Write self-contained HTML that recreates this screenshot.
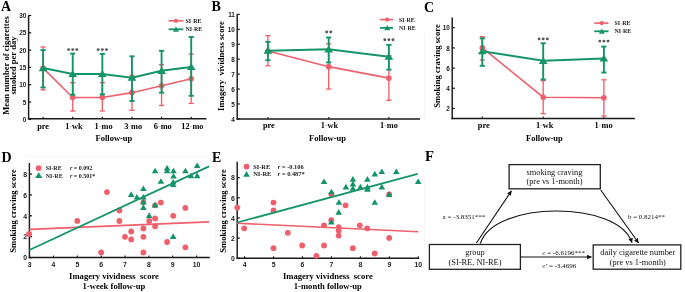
<!DOCTYPE html>
<html><head><meta charset="utf-8"><title>Figure</title>
<style>
html,body{margin:0;padding:0;background:#fff;}
body{width:685px;height:292px;overflow:hidden;}
svg{display:block;will-change:transform;}
</style></head>
<body>
<svg width="685" height="292" viewBox="0 0 685 292">
<rect width="685" height="292" fill="#fff"/>
<line x1="28.6" y1="15.3" x2="28.6" y2="119.45" stroke="#1a1a1a" stroke-width="1.45" />
<line x1="28.6" y1="119.3" x2="31.2" y2="119.3" stroke="#1a1a1a" stroke-width="1.25" />
<text x="26.3" y="121.9" font-family="'Liberation Sans', sans-serif" font-size="6.4" font-weight="bold" text-anchor="end" fill="#222" >0</text>
<line x1="28.6" y1="102" x2="31.2" y2="102" stroke="#1a1a1a" stroke-width="1.25" />
<text x="26.3" y="104.6" font-family="'Liberation Sans', sans-serif" font-size="6.4" font-weight="bold" text-anchor="end" fill="#222" >5</text>
<line x1="28.6" y1="84.7" x2="31.2" y2="84.7" stroke="#1a1a1a" stroke-width="1.25" />
<text x="26.3" y="87.3" font-family="'Liberation Sans', sans-serif" font-size="6.4" font-weight="bold" text-anchor="end" fill="#222" >10</text>
<line x1="28.6" y1="67.4" x2="31.2" y2="67.4" stroke="#1a1a1a" stroke-width="1.25" />
<text x="26.3" y="70" font-family="'Liberation Sans', sans-serif" font-size="6.4" font-weight="bold" text-anchor="end" fill="#222" >15</text>
<line x1="28.6" y1="50.1" x2="31.2" y2="50.1" stroke="#1a1a1a" stroke-width="1.25" />
<text x="26.3" y="52.7" font-family="'Liberation Sans', sans-serif" font-size="6.4" font-weight="bold" text-anchor="end" fill="#222" >20</text>
<line x1="28.6" y1="32.8" x2="31.2" y2="32.8" stroke="#1a1a1a" stroke-width="1.25" />
<text x="26.3" y="35.4" font-family="'Liberation Sans', sans-serif" font-size="6.4" font-weight="bold" text-anchor="end" fill="#222" >25</text>
<line x1="28.6" y1="15.5" x2="31.2" y2="15.5" stroke="#1a1a1a" stroke-width="1.25" />
<text x="26.3" y="18.1" font-family="'Liberation Sans', sans-serif" font-size="6.4" font-weight="bold" text-anchor="end" fill="#222" >30</text>
<line x1="27.9" y1="118.75" x2="206.5" y2="118.75" stroke="#1a1a1a" stroke-width="1.5" />
<line x1="43.1" y1="118.75" x2="43.1" y2="116.7" stroke="#1a1a1a" stroke-width="1.2" />
<line x1="72.72" y1="118.75" x2="72.72" y2="116.7" stroke="#1a1a1a" stroke-width="1.2" />
<line x1="102.34" y1="118.75" x2="102.34" y2="116.7" stroke="#1a1a1a" stroke-width="1.2" />
<line x1="131.96" y1="118.75" x2="131.96" y2="116.7" stroke="#1a1a1a" stroke-width="1.2" />
<line x1="161.58" y1="118.75" x2="161.58" y2="116.7" stroke="#1a1a1a" stroke-width="1.2" />
<line x1="191.2" y1="118.75" x2="191.2" y2="116.7" stroke="#1a1a1a" stroke-width="1.2" />
<text x="43.1" y="128.6" font-family="'Liberation Serif', serif" font-size="8.3" font-weight="bold" text-anchor="middle" fill="#000" >pre</text>
<text x="73.92" y="128.6" font-family="'Liberation Serif', serif" font-size="8.3" font-weight="bold" text-anchor="middle" fill="#000" >1<tspan fill='#a0a0a0' font-weight='normal'>-</tspan>wk</text>
<text x="103.54" y="128.6" font-family="'Liberation Serif', serif" font-size="8.3" font-weight="bold" text-anchor="middle" fill="#000" >1<tspan fill='#a0a0a0' font-weight='normal'>-</tspan>mo</text>
<text x="133.16" y="128.6" font-family="'Liberation Serif', serif" font-size="8.3" font-weight="bold" text-anchor="middle" fill="#000" >3<tspan fill='#a0a0a0' font-weight='normal'>-</tspan>mo</text>
<text x="162.78" y="128.6" font-family="'Liberation Serif', serif" font-size="8.3" font-weight="bold" text-anchor="middle" fill="#000" >6<tspan fill='#a0a0a0' font-weight='normal'>-</tspan>mo</text>
<text x="192.4" y="128.6" font-family="'Liberation Serif', serif" font-size="8.3" font-weight="bold" text-anchor="middle" fill="#000" >12<tspan fill='#a0a0a0' font-weight='normal'>-</tspan>mo</text>
<text x="113.9" y="141.4" font-family="'Liberation Serif', serif" font-size="8.5" font-weight="bold" text-anchor="middle" fill="#000" >Follow-up</text>
<text transform="translate(8.9,65.5) rotate(-90)" font-family="'Liberation Serif', serif" font-size="8.6" font-weight="bold" text-anchor="middle" fill="#000" >Mean number of cigarettes</text>
<text transform="translate(15.9,65.5) rotate(-90)" font-family="'Liberation Serif', serif" font-size="8.6" font-weight="bold" text-anchor="middle" fill="#000" >smoked per day</text>
<line x1="43.1" y1="89.89" x2="43.1" y2="46.99" stroke="#ef5f6c" stroke-width="1.35" />
<line x1="40.5" y1="89.89" x2="45.7" y2="89.89" stroke="#ef5f6c" stroke-width="1.35" />
<line x1="40.5" y1="46.99" x2="45.7" y2="46.99" stroke="#ef5f6c" stroke-width="1.35" />
<line x1="72.72" y1="111" x2="72.72" y2="82.62" stroke="#ef5f6c" stroke-width="1.35" />
<line x1="70.12" y1="111" x2="75.32" y2="111" stroke="#ef5f6c" stroke-width="1.35" />
<line x1="70.12" y1="82.62" x2="75.32" y2="82.62" stroke="#ef5f6c" stroke-width="1.35" />
<line x1="102.34" y1="111" x2="102.34" y2="82.62" stroke="#ef5f6c" stroke-width="1.35" />
<line x1="99.74" y1="111" x2="104.94" y2="111" stroke="#ef5f6c" stroke-width="1.35" />
<line x1="99.74" y1="82.62" x2="104.94" y2="82.62" stroke="#ef5f6c" stroke-width="1.35" />
<line x1="131.96" y1="110.3" x2="131.96" y2="75.36" stroke="#ef5f6c" stroke-width="1.35" />
<line x1="129.36" y1="110.3" x2="134.56" y2="110.3" stroke="#ef5f6c" stroke-width="1.35" />
<line x1="129.36" y1="75.36" x2="134.56" y2="75.36" stroke="#ef5f6c" stroke-width="1.35" />
<line x1="161.58" y1="105.46" x2="161.58" y2="64.63" stroke="#ef5f6c" stroke-width="1.35" />
<line x1="158.98" y1="105.46" x2="164.18" y2="105.46" stroke="#ef5f6c" stroke-width="1.35" />
<line x1="158.98" y1="64.63" x2="164.18" y2="64.63" stroke="#ef5f6c" stroke-width="1.35" />
<line x1="191.2" y1="103.38" x2="191.2" y2="54.25" stroke="#ef5f6c" stroke-width="1.35" />
<line x1="188.6" y1="103.38" x2="193.8" y2="103.38" stroke="#ef5f6c" stroke-width="1.35" />
<line x1="188.6" y1="54.25" x2="193.8" y2="54.25" stroke="#ef5f6c" stroke-width="1.35" />
<polyline points="43.1,68.09 72.72,97.5 102.34,97.5 131.96,92.66 161.58,85.74 191.2,78.82" fill="none" stroke="#ef5f6c" stroke-width="1.6"/>
<circle cx="43.1" cy="68.09" r="2.8" fill="#ef5f6c"/>
<circle cx="72.72" cy="97.5" r="2.8" fill="#ef5f6c"/>
<circle cx="102.34" cy="97.5" r="2.8" fill="#ef5f6c"/>
<circle cx="131.96" cy="92.66" r="2.8" fill="#ef5f6c"/>
<circle cx="161.58" cy="85.74" r="2.8" fill="#ef5f6c"/>
<circle cx="191.2" cy="78.82" r="2.8" fill="#ef5f6c"/>
<line x1="43.1" y1="87.47" x2="43.1" y2="50.1" stroke="#139566" stroke-width="1.9" />
<line x1="40.5" y1="87.47" x2="45.7" y2="87.47" stroke="#139566" stroke-width="1.9" />
<line x1="40.5" y1="50.1" x2="45.7" y2="50.1" stroke="#139566" stroke-width="1.9" />
<line x1="72.72" y1="94.73" x2="72.72" y2="53.56" stroke="#139566" stroke-width="1.9" />
<line x1="70.12" y1="94.73" x2="75.32" y2="94.73" stroke="#139566" stroke-width="1.9" />
<line x1="70.12" y1="53.56" x2="75.32" y2="53.56" stroke="#139566" stroke-width="1.9" />
<line x1="102.34" y1="94.39" x2="102.34" y2="53.91" stroke="#139566" stroke-width="1.9" />
<line x1="99.74" y1="94.39" x2="104.94" y2="94.39" stroke="#139566" stroke-width="1.9" />
<line x1="99.74" y1="53.91" x2="104.94" y2="53.91" stroke="#139566" stroke-width="1.9" />
<line x1="131.96" y1="100.96" x2="131.96" y2="56.33" stroke="#139566" stroke-width="1.9" />
<line x1="129.36" y1="100.96" x2="134.56" y2="100.96" stroke="#139566" stroke-width="1.9" />
<line x1="129.36" y1="56.33" x2="134.56" y2="56.33" stroke="#139566" stroke-width="1.9" />
<line x1="161.58" y1="92.66" x2="161.58" y2="50.79" stroke="#139566" stroke-width="1.9" />
<line x1="158.98" y1="92.66" x2="164.18" y2="92.66" stroke="#139566" stroke-width="1.9" />
<line x1="158.98" y1="50.79" x2="164.18" y2="50.79" stroke="#139566" stroke-width="1.9" />
<line x1="191.2" y1="95.77" x2="191.2" y2="36.95" stroke="#139566" stroke-width="1.9" />
<line x1="188.6" y1="95.77" x2="193.8" y2="95.77" stroke="#139566" stroke-width="1.9" />
<line x1="188.6" y1="36.95" x2="193.8" y2="36.95" stroke="#139566" stroke-width="1.9" />
<polyline points="43.1,68.09 72.72,73.97 102.34,73.97 131.96,77.78 161.58,70.86 191.2,67.05" fill="none" stroke="#139566" stroke-width="2"/>
<polygon points="38.7,71.15 47.5,71.15 43.1,64.35" fill="#139566"/>
<polygon points="68.32,77.03 77.12,77.03 72.72,70.23" fill="#139566"/>
<polygon points="97.94,77.03 106.74,77.03 102.34,70.23" fill="#139566"/>
<polygon points="127.56,80.84 136.36,80.84 131.96,74.04" fill="#139566"/>
<polygon points="157.18,73.92 165.98,73.92 161.58,67.12" fill="#139566"/>
<polygon points="186.8,70.11 195.6,70.11 191.2,63.31" fill="#139566"/>
<circle cx="68.62" cy="49.6" r="1.45" fill="#595959"/>
<circle cx="72.72" cy="49.6" r="1.45" fill="#595959"/>
<circle cx="76.82" cy="49.6" r="1.45" fill="#595959"/>
<circle cx="98.24" cy="49.6" r="1.45" fill="#595959"/>
<circle cx="102.34" cy="49.6" r="1.45" fill="#595959"/>
<circle cx="106.44" cy="49.6" r="1.45" fill="#595959"/>
<line x1="168.6" y1="20.8" x2="183.3" y2="20.8" stroke="#ef5f6c" stroke-width="1.6" />
<circle cx="175.95" cy="20.8" r="2.1" fill="#ef5f6c"/>
<text x="185.6" y="22.7" font-family="'Liberation Serif', serif" font-size="5.9" font-weight="bold" text-anchor="start" fill="#222" >SI<tspan fill='#a0a0a0' font-weight='normal'>-</tspan>RE</text>
<line x1="168.6" y1="29.3" x2="183.3" y2="29.3" stroke="#139566" stroke-width="1.8" />
<polygon points="172.95,31.64 178.95,31.64 175.95,26.44" fill="#139566"/>
<text x="185.6" y="31.2" font-family="'Liberation Serif', serif" font-size="5.9" font-weight="bold" text-anchor="start" fill="#222" >NI<tspan fill='#a0a0a0' font-weight='normal'>-</tspan>RE</text>
<text x="1" y="10.8" font-family="'Liberation Serif', serif" font-size="14" font-weight="bold" text-anchor="start" fill="#000" >A</text>
<line x1="237.2" y1="14.2" x2="237.2" y2="119.6" stroke="#1a1a1a" stroke-width="1.45" />
<line x1="237.2" y1="118.9" x2="239.8" y2="118.9" stroke="#1a1a1a" stroke-width="1.25" />
<text x="234.9" y="121.5" font-family="'Liberation Sans', sans-serif" font-size="6.4" font-weight="bold" text-anchor="end" fill="#222" >4</text>
<line x1="237.2" y1="103.97" x2="239.8" y2="103.97" stroke="#1a1a1a" stroke-width="1.25" />
<text x="234.9" y="106.57" font-family="'Liberation Sans', sans-serif" font-size="6.4" font-weight="bold" text-anchor="end" fill="#222" >5</text>
<line x1="237.2" y1="89.04" x2="239.8" y2="89.04" stroke="#1a1a1a" stroke-width="1.25" />
<text x="234.9" y="91.64" font-family="'Liberation Sans', sans-serif" font-size="6.4" font-weight="bold" text-anchor="end" fill="#222" >6</text>
<line x1="237.2" y1="74.11" x2="239.8" y2="74.11" stroke="#1a1a1a" stroke-width="1.25" />
<text x="234.9" y="76.71" font-family="'Liberation Sans', sans-serif" font-size="6.4" font-weight="bold" text-anchor="end" fill="#222" >7</text>
<line x1="237.2" y1="59.18" x2="239.8" y2="59.18" stroke="#1a1a1a" stroke-width="1.25" />
<text x="234.9" y="61.78" font-family="'Liberation Sans', sans-serif" font-size="6.4" font-weight="bold" text-anchor="end" fill="#222" >8</text>
<line x1="237.2" y1="44.25" x2="239.8" y2="44.25" stroke="#1a1a1a" stroke-width="1.25" />
<text x="234.9" y="46.85" font-family="'Liberation Sans', sans-serif" font-size="6.4" font-weight="bold" text-anchor="end" fill="#222" >9</text>
<line x1="237.2" y1="29.32" x2="239.8" y2="29.32" stroke="#1a1a1a" stroke-width="1.25" />
<text x="234.9" y="31.92" font-family="'Liberation Sans', sans-serif" font-size="6.4" font-weight="bold" text-anchor="end" fill="#222" >10</text>
<line x1="237.2" y1="14.39" x2="239.8" y2="14.39" stroke="#1a1a1a" stroke-width="1.25" />
<text x="234.9" y="16.99" font-family="'Liberation Sans', sans-serif" font-size="6.4" font-weight="bold" text-anchor="end" fill="#222" >11</text>
<line x1="236.5" y1="118.9" x2="420" y2="118.9" stroke="#1a1a1a" stroke-width="1.5" />
<line x1="267.9" y1="118.9" x2="267.9" y2="116.9" stroke="#1a1a1a" stroke-width="1.1" />
<line x1="328.7" y1="118.9" x2="328.7" y2="116.9" stroke="#1a1a1a" stroke-width="1.1" />
<line x1="388.9" y1="118.9" x2="388.9" y2="116.9" stroke="#1a1a1a" stroke-width="1.1" />
<text x="268.8" y="128.4" font-family="'Liberation Serif', serif" font-size="8.3" font-weight="bold" text-anchor="middle" fill="#000" >pre</text>
<text x="329.4" y="128.4" font-family="'Liberation Serif', serif" font-size="8.3" font-weight="bold" text-anchor="middle" fill="#000" >1<tspan fill='#a0a0a0' font-weight='normal'>-</tspan>wk</text>
<text x="388.9" y="128.4" font-family="'Liberation Serif', serif" font-size="8.3" font-weight="bold" text-anchor="middle" fill="#000" >1<tspan fill='#a0a0a0' font-weight='normal'>-</tspan>mo</text>
<text x="327.5" y="141.2" font-family="'Liberation Serif', serif" font-size="8.5" font-weight="bold" text-anchor="middle" fill="#000" >Follow-up</text>
<text transform="translate(221.4,66) rotate(-90)" font-family="'Liberation Serif', serif" font-size="8.6" font-weight="bold" text-anchor="middle" fill="#000" dy="3">Imagery&#160; vividness score</text>
<line x1="267.9" y1="65.75" x2="267.9" y2="35.59" stroke="#ef5f6c" stroke-width="1.35" />
<line x1="265.3" y1="65.75" x2="270.5" y2="65.75" stroke="#ef5f6c" stroke-width="1.35" />
<line x1="265.3" y1="35.59" x2="270.5" y2="35.59" stroke="#ef5f6c" stroke-width="1.35" />
<line x1="328.7" y1="89.04" x2="328.7" y2="43.8" stroke="#ef5f6c" stroke-width="1.35" />
<line x1="326.1" y1="89.04" x2="331.3" y2="89.04" stroke="#ef5f6c" stroke-width="1.35" />
<line x1="326.1" y1="43.8" x2="331.3" y2="43.8" stroke="#ef5f6c" stroke-width="1.35" />
<line x1="388.9" y1="100.39" x2="388.9" y2="55.75" stroke="#ef5f6c" stroke-width="1.35" />
<line x1="386.3" y1="100.39" x2="391.5" y2="100.39" stroke="#ef5f6c" stroke-width="1.35" />
<line x1="386.3" y1="55.75" x2="391.5" y2="55.75" stroke="#ef5f6c" stroke-width="1.35" />
<polyline points="267.9,50.97 328.7,66.65 388.9,78.14" fill="none" stroke="#ef5f6c" stroke-width="1.6"/>
<circle cx="267.9" cy="50.97" r="2.8" fill="#ef5f6c"/>
<circle cx="328.7" cy="66.65" r="2.8" fill="#ef5f6c"/>
<circle cx="388.9" cy="78.14" r="2.8" fill="#ef5f6c"/>
<line x1="267.9" y1="60.23" x2="267.9" y2="41.86" stroke="#139566" stroke-width="1.9" />
<line x1="265.3" y1="60.23" x2="270.5" y2="60.23" stroke="#139566" stroke-width="1.9" />
<line x1="265.3" y1="41.86" x2="270.5" y2="41.86" stroke="#139566" stroke-width="1.9" />
<line x1="328.7" y1="62.46" x2="328.7" y2="37.53" stroke="#139566" stroke-width="1.9" />
<line x1="326.1" y1="62.46" x2="331.3" y2="62.46" stroke="#139566" stroke-width="1.9" />
<line x1="326.1" y1="37.53" x2="331.3" y2="37.53" stroke="#139566" stroke-width="1.9" />
<line x1="388.9" y1="69.63" x2="388.9" y2="44.85" stroke="#139566" stroke-width="1.9" />
<line x1="386.3" y1="69.63" x2="391.5" y2="69.63" stroke="#139566" stroke-width="1.9" />
<line x1="386.3" y1="44.85" x2="391.5" y2="44.85" stroke="#139566" stroke-width="1.9" />
<polyline points="267.9,50.67 328.7,49.33 388.9,56.64" fill="none" stroke="#139566" stroke-width="2"/>
<polygon points="263.5,53.73 272.3,53.73 267.9,46.93" fill="#139566"/>
<polygon points="324.3,52.39 333.1,52.39 328.7,45.59" fill="#139566"/>
<polygon points="384.5,59.7 393.3,59.7 388.9,52.9" fill="#139566"/>
<circle cx="326.65" cy="32" r="1.45" fill="#595959"/>
<circle cx="330.75" cy="32" r="1.45" fill="#595959"/>
<circle cx="384.8" cy="39.7" r="1.45" fill="#595959"/>
<circle cx="388.9" cy="39.7" r="1.45" fill="#595959"/>
<circle cx="393" cy="39.7" r="1.45" fill="#595959"/>
<line x1="380" y1="19.6" x2="393" y2="19.6" stroke="#ef5f6c" stroke-width="1.6" />
<circle cx="387.2" cy="19.6" r="2.1" fill="#ef5f6c"/>
<text x="399" y="21.5" font-family="'Liberation Serif', serif" font-size="5.9" font-weight="bold" text-anchor="start" fill="#222" >SI<tspan fill='#a0a0a0' font-weight='normal'>-</tspan>RE</text>
<line x1="380" y1="27.9" x2="393" y2="27.9" stroke="#139566" stroke-width="1.8" />
<polygon points="384.2,30.24 390.2,30.24 387.2,25.04" fill="#139566"/>
<text x="399" y="29.8" font-family="'Liberation Serif', serif" font-size="5.9" font-weight="bold" text-anchor="start" fill="#222" >NI<tspan fill='#a0a0a0' font-weight='normal'>-</tspan>RE</text>
<text x="211.5" y="10.8" font-family="'Liberation Serif', serif" font-size="14" font-weight="bold" text-anchor="start" fill="#000" >B</text>
<line x1="452.2" y1="17.5" x2="452.2" y2="119.3" stroke="#1a1a1a" stroke-width="1.45" />
<line x1="452.2" y1="108.5" x2="454.8" y2="108.5" stroke="#1a1a1a" stroke-width="1.25" />
<text x="449.9" y="111.1" font-family="'Liberation Sans', sans-serif" font-size="6.4" font-weight="bold" text-anchor="end" fill="#222" >2</text>
<line x1="452.2" y1="88.3" x2="454.8" y2="88.3" stroke="#1a1a1a" stroke-width="1.25" />
<text x="449.9" y="90.9" font-family="'Liberation Sans', sans-serif" font-size="6.4" font-weight="bold" text-anchor="end" fill="#222" >4</text>
<line x1="452.2" y1="68.1" x2="454.8" y2="68.1" stroke="#1a1a1a" stroke-width="1.25" />
<text x="449.9" y="70.7" font-family="'Liberation Sans', sans-serif" font-size="6.4" font-weight="bold" text-anchor="end" fill="#222" >6</text>
<line x1="452.2" y1="47.9" x2="454.8" y2="47.9" stroke="#1a1a1a" stroke-width="1.25" />
<text x="449.9" y="50.5" font-family="'Liberation Sans', sans-serif" font-size="6.4" font-weight="bold" text-anchor="end" fill="#222" >8</text>
<line x1="452.2" y1="27.7" x2="454.8" y2="27.7" stroke="#1a1a1a" stroke-width="1.25" />
<text x="449.9" y="30.3" font-family="'Liberation Sans', sans-serif" font-size="6.4" font-weight="bold" text-anchor="end" fill="#222" >10</text>
<line x1="451.5" y1="118.6" x2="634.9" y2="118.6" stroke="#1a1a1a" stroke-width="1.5" />
<line x1="482.3" y1="118.6" x2="482.3" y2="116.6" stroke="#1a1a1a" stroke-width="1.1" />
<line x1="543.2" y1="118.6" x2="543.2" y2="116.6" stroke="#1a1a1a" stroke-width="1.1" />
<line x1="603.9" y1="118.6" x2="603.9" y2="116.6" stroke="#1a1a1a" stroke-width="1.1" />
<text x="483.7" y="128.2" font-family="'Liberation Serif', serif" font-size="8.3" font-weight="bold" text-anchor="middle" fill="#000" >pre</text>
<text x="544.7" y="128.2" font-family="'Liberation Serif', serif" font-size="8.3" font-weight="bold" text-anchor="middle" fill="#000" >1<tspan fill='#a0a0a0' font-weight='normal'>-</tspan>wk</text>
<text x="603.6" y="128.2" font-family="'Liberation Serif', serif" font-size="8.3" font-weight="bold" text-anchor="middle" fill="#000" >1<tspan fill='#a0a0a0' font-weight='normal'>-</tspan>mo</text>
<text x="544.4" y="141" font-family="'Liberation Serif', serif" font-size="8.5" font-weight="bold" text-anchor="middle" fill="#000" >Follow-up</text>
<text transform="translate(437,66) rotate(-90)" font-family="'Liberation Serif', serif" font-size="8.6" font-weight="bold" text-anchor="middle" fill="#000" dy="3">Smoking craving score</text>
<line x1="482.3" y1="60.02" x2="482.3" y2="36.69" stroke="#ef5f6c" stroke-width="1.35" />
<line x1="479.7" y1="60.02" x2="484.9" y2="60.02" stroke="#ef5f6c" stroke-width="1.35" />
<line x1="479.7" y1="36.69" x2="484.9" y2="36.69" stroke="#ef5f6c" stroke-width="1.35" />
<line x1="543.2" y1="113.65" x2="543.2" y2="80.62" stroke="#ef5f6c" stroke-width="1.35" />
<line x1="540.6" y1="113.65" x2="545.8" y2="113.65" stroke="#ef5f6c" stroke-width="1.35" />
<line x1="540.6" y1="80.62" x2="545.8" y2="80.62" stroke="#ef5f6c" stroke-width="1.35" />
<line x1="603.9" y1="115.97" x2="603.9" y2="79.82" stroke="#ef5f6c" stroke-width="1.35" />
<line x1="601.3" y1="115.97" x2="606.5" y2="115.97" stroke="#ef5f6c" stroke-width="1.35" />
<line x1="601.3" y1="79.82" x2="606.5" y2="79.82" stroke="#ef5f6c" stroke-width="1.35" />
<polyline points="482.3,47.9 543.2,97.19 603.9,97.79" fill="none" stroke="#ef5f6c" stroke-width="1.6"/>
<circle cx="482.3" cy="47.9" r="2.8" fill="#ef5f6c"/>
<circle cx="543.2" cy="97.19" r="2.8" fill="#ef5f6c"/>
<circle cx="603.9" cy="97.79" r="2.8" fill="#ef5f6c"/>
<line x1="482.3" y1="65.78" x2="482.3" y2="38.31" stroke="#139566" stroke-width="1.9" />
<line x1="479.7" y1="65.78" x2="484.9" y2="65.78" stroke="#139566" stroke-width="1.9" />
<line x1="479.7" y1="38.31" x2="484.9" y2="38.31" stroke="#139566" stroke-width="1.9" />
<line x1="543.2" y1="79.51" x2="543.2" y2="43.25" stroke="#139566" stroke-width="1.9" />
<line x1="540.6" y1="79.51" x2="545.8" y2="79.51" stroke="#139566" stroke-width="1.9" />
<line x1="540.6" y1="43.25" x2="545.8" y2="43.25" stroke="#139566" stroke-width="1.9" />
<line x1="603.9" y1="72.54" x2="603.9" y2="46.59" stroke="#139566" stroke-width="1.9" />
<line x1="601.3" y1="72.54" x2="606.5" y2="72.54" stroke="#139566" stroke-width="1.9" />
<line x1="601.3" y1="46.59" x2="606.5" y2="46.59" stroke="#139566" stroke-width="1.9" />
<polyline points="482.3,51.23 543.2,60.83 603.9,58.4" fill="none" stroke="#139566" stroke-width="2"/>
<polygon points="477.9,54.29 486.7,54.29 482.3,47.49" fill="#139566"/>
<polygon points="538.8,63.89 547.6,63.89 543.2,57.09" fill="#139566"/>
<polygon points="599.5,61.46 608.3,61.46 603.9,54.66" fill="#139566"/>
<circle cx="539.1" cy="38.9" r="1.45" fill="#595959"/>
<circle cx="543.2" cy="38.9" r="1.45" fill="#595959"/>
<circle cx="547.3" cy="38.9" r="1.45" fill="#595959"/>
<circle cx="599.8" cy="41.1" r="1.45" fill="#595959"/>
<circle cx="603.9" cy="41.1" r="1.45" fill="#595959"/>
<circle cx="608" cy="41.1" r="1.45" fill="#595959"/>
<line x1="594.2" y1="23.1" x2="608.5" y2="23.1" stroke="#ef5f6c" stroke-width="1.6" />
<circle cx="601.8" cy="23.1" r="2.1" fill="#ef5f6c"/>
<text x="614.6" y="25" font-family="'Liberation Serif', serif" font-size="5.9" font-weight="bold" text-anchor="start" fill="#222" >SI<tspan fill='#a0a0a0' font-weight='normal'>-</tspan>RE</text>
<line x1="594.2" y1="31.3" x2="608.5" y2="31.3" stroke="#139566" stroke-width="1.8" />
<polygon points="598.8,33.64 604.8,33.64 601.8,28.44" fill="#139566"/>
<text x="614.6" y="33.2" font-family="'Liberation Serif', serif" font-size="5.9" font-weight="bold" text-anchor="start" fill="#222" >NI<tspan fill='#a0a0a0' font-weight='normal'>-</tspan>RE</text>
<text x="424" y="11.5" font-family="'Liberation Serif', serif" font-size="14" font-weight="bold" text-anchor="start" fill="#000" >C</text>
<line x1="424.6" y1="34" x2="424.6" y2="121" stroke="#f1f1f1" stroke-width="0.8" />
<line x1="424.6" y1="176" x2="424.6" y2="250" stroke="#f1f1f1" stroke-width="0.8" />
<line x1="26" y1="157" x2="209" y2="157" stroke="#f3f3f3" stroke-width="0.8" />
<line x1="215.8" y1="157" x2="215.8" y2="260" stroke="#f1f1f1" stroke-width="0.8" />
<line x1="29.4" y1="163" x2="29.4" y2="258.3" stroke="#1a1a1a" stroke-width="1.45" />
<line x1="29.4" y1="257.6" x2="32" y2="257.6" stroke="#1a1a1a" stroke-width="1.25" />
<text x="27.1" y="260.38" font-family="'Liberation Sans', sans-serif" font-size="6.9" font-weight="bold" text-anchor="end" fill="#222" >0</text>
<line x1="29.4" y1="236.7" x2="32" y2="236.7" stroke="#1a1a1a" stroke-width="1.25" />
<text x="27.1" y="239.48" font-family="'Liberation Sans', sans-serif" font-size="6.9" font-weight="bold" text-anchor="end" fill="#222" >2</text>
<line x1="29.4" y1="215.8" x2="32" y2="215.8" stroke="#1a1a1a" stroke-width="1.25" />
<text x="27.1" y="218.58" font-family="'Liberation Sans', sans-serif" font-size="6.9" font-weight="bold" text-anchor="end" fill="#222" >4</text>
<line x1="29.4" y1="194.9" x2="32" y2="194.9" stroke="#1a1a1a" stroke-width="1.25" />
<text x="27.1" y="197.68" font-family="'Liberation Sans', sans-serif" font-size="6.9" font-weight="bold" text-anchor="end" fill="#222" >6</text>
<line x1="29.4" y1="174" x2="32" y2="174" stroke="#1a1a1a" stroke-width="1.25" />
<text x="27.1" y="176.78" font-family="'Liberation Sans', sans-serif" font-size="6.9" font-weight="bold" text-anchor="end" fill="#222" >8</text>
<line x1="28.7" y1="257.6" x2="209.8" y2="257.6" stroke="#1a1a1a" stroke-width="1.5" />
<line x1="29.6" y1="257.6" x2="29.6" y2="255.6" stroke="#1a1a1a" stroke-width="1.1" />
<text x="29.6" y="266.8" font-family="'Liberation Sans', sans-serif" font-size="6.9" font-weight="bold" text-anchor="middle" fill="#222" >3</text>
<line x1="53.46" y1="257.6" x2="53.46" y2="255.6" stroke="#1a1a1a" stroke-width="1.1" />
<text x="53.46" y="266.8" font-family="'Liberation Sans', sans-serif" font-size="6.9" font-weight="bold" text-anchor="middle" fill="#222" >4</text>
<line x1="77.32" y1="257.6" x2="77.32" y2="255.6" stroke="#1a1a1a" stroke-width="1.1" />
<text x="77.32" y="266.8" font-family="'Liberation Sans', sans-serif" font-size="6.9" font-weight="bold" text-anchor="middle" fill="#222" >5</text>
<line x1="101.18" y1="257.6" x2="101.18" y2="255.6" stroke="#1a1a1a" stroke-width="1.1" />
<text x="101.18" y="266.8" font-family="'Liberation Sans', sans-serif" font-size="6.9" font-weight="bold" text-anchor="middle" fill="#222" >6</text>
<line x1="125.04" y1="257.6" x2="125.04" y2="255.6" stroke="#1a1a1a" stroke-width="1.1" />
<text x="125.04" y="266.8" font-family="'Liberation Sans', sans-serif" font-size="6.9" font-weight="bold" text-anchor="middle" fill="#222" >7</text>
<line x1="148.9" y1="257.6" x2="148.9" y2="255.6" stroke="#1a1a1a" stroke-width="1.1" />
<text x="148.9" y="266.8" font-family="'Liberation Sans', sans-serif" font-size="6.9" font-weight="bold" text-anchor="middle" fill="#222" >8</text>
<line x1="172.76" y1="257.6" x2="172.76" y2="255.6" stroke="#1a1a1a" stroke-width="1.1" />
<text x="172.76" y="266.8" font-family="'Liberation Sans', sans-serif" font-size="6.9" font-weight="bold" text-anchor="middle" fill="#222" >9</text>
<line x1="196.62" y1="257.6" x2="196.62" y2="255.6" stroke="#1a1a1a" stroke-width="1.1" />
<text x="196.62" y="266.8" font-family="'Liberation Sans', sans-serif" font-size="6.9" font-weight="bold" text-anchor="middle" fill="#222" >10</text>
<text x="114" y="279.3" font-family="'Liberation Serif', serif" font-size="8.6" font-weight="bold" text-anchor="middle" fill="#000" >Imagery vividness&#160; score</text>
<text x="114" y="289" font-family="'Liberation Serif', serif" font-size="8.6" font-weight="bold" text-anchor="middle" fill="#000" >1-week follow-up</text>
<text transform="translate(13.2,211) rotate(-90)" font-family="'Liberation Serif', serif" font-size="8.6" font-weight="bold" text-anchor="middle" fill="#000" dy="3">Smoking craving score</text>
<circle cx="29.1" cy="234" r="2.9" fill="#ef5f6c"/>
<circle cx="77.3" cy="220.9" r="2.9" fill="#ef5f6c"/>
<circle cx="101.2" cy="252.5" r="2.9" fill="#ef5f6c"/>
<circle cx="107" cy="192.1" r="2.9" fill="#ef5f6c"/>
<circle cx="119.4" cy="210.5" r="2.9" fill="#ef5f6c"/>
<circle cx="119.4" cy="221" r="2.9" fill="#ef5f6c"/>
<circle cx="143.4" cy="202.1" r="2.9" fill="#ef5f6c"/>
<circle cx="160.9" cy="202.6" r="2.9" fill="#ef5f6c"/>
<circle cx="155.1" cy="205.3" r="2.9" fill="#ef5f6c"/>
<circle cx="185.4" cy="207.9" r="2.9" fill="#ef5f6c"/>
<circle cx="173.2" cy="215.8" r="2.9" fill="#ef5f6c"/>
<circle cx="155.1" cy="218.4" r="2.9" fill="#ef5f6c"/>
<circle cx="149.2" cy="221" r="2.9" fill="#ef5f6c"/>
<circle cx="155.1" cy="226.3" r="2.9" fill="#ef5f6c"/>
<circle cx="143.4" cy="228.4" r="2.9" fill="#ef5f6c"/>
<circle cx="131.2" cy="231.5" r="2.9" fill="#ef5f6c"/>
<circle cx="125" cy="236.8" r="2.9" fill="#ef5f6c"/>
<circle cx="131.2" cy="239.4" r="2.9" fill="#ef5f6c"/>
<circle cx="143.4" cy="236.8" r="2.9" fill="#ef5f6c"/>
<circle cx="167.1" cy="242" r="2.9" fill="#ef5f6c"/>
<circle cx="185.4" cy="247.3" r="2.9" fill="#ef5f6c"/>
<circle cx="143.4" cy="252.5" r="2.9" fill="#ef5f6c"/>
<line x1="29.4" y1="229.4" x2="209.1" y2="221.9" stroke="#ef5f6c" stroke-width="1.6" />
<polygon points="151.8,173.32 158.4,173.32 155.1,167.72" fill="#139566"/>
<polygon points="163.8,170.62 170.4,170.62 167.1,165.02" fill="#139566"/>
<polygon points="163.8,173.32 170.4,173.32 167.1,167.72" fill="#139566"/>
<polygon points="170.2,173.32 176.8,173.32 173.5,167.72" fill="#139566"/>
<polygon points="170.2,178.52 176.8,178.52 173.5,172.92" fill="#139566"/>
<polygon points="182.1,173.32 188.7,173.32 185.4,167.72" fill="#139566"/>
<polygon points="193.9,168.02 200.5,168.02 197.2,162.42" fill="#139566"/>
<polygon points="187.7,178.22 194.3,178.22 191,172.62" fill="#139566"/>
<polygon points="193.9,178.22 200.5,178.22 197.2,172.62" fill="#139566"/>
<polygon points="157.6,183.82 164.2,183.82 160.9,178.22" fill="#139566"/>
<polygon points="169.9,184.62 176.5,184.62 173.2,179.02" fill="#139566"/>
<polygon points="169.9,187.02 176.5,187.02 173.2,181.42" fill="#139566"/>
<polygon points="140.1,191.12 146.7,191.12 143.4,185.52" fill="#139566"/>
<polygon points="127.9,196.92 134.5,196.92 131.2,191.32" fill="#139566"/>
<polygon points="133.6,199.52 140.2,199.52 136.9,193.92" fill="#139566"/>
<polygon points="140.1,199.52 146.7,199.52 143.4,193.92" fill="#139566"/>
<polygon points="140.1,204.62 146.7,204.62 143.4,199.02" fill="#139566"/>
<polygon points="140.1,209.92 146.7,209.92 143.4,204.32" fill="#139566"/>
<polygon points="151.8,207.42 158.4,207.42 155.1,201.82" fill="#139566"/>
<polygon points="145.9,217.92 152.5,217.92 149.2,212.32" fill="#139566"/>
<polygon points="169.9,238.92 176.5,238.92 173.2,233.32" fill="#139566"/>
<line x1="29.4" y1="250" x2="209.1" y2="166.4" stroke="#139566" stroke-width="1.8" />
<circle cx="38.6" cy="168.1" r="2.9" fill="#ef5f6c"/>
<polygon points="35.1,178.01 42.3,178.01 38.7,172.21" fill="#139566"/>
<text x="45.7" y="169.7" font-family="'Liberation Serif', serif" font-size="6.0" font-weight="bold" text-anchor="start" fill="#222" >SI-RE</text>
<text x="45.7" y="177.8" font-family="'Liberation Serif', serif" font-size="6.0" font-weight="bold" text-anchor="start" fill="#222" >NI-RE</text>
<text x="69.9" y="169.7" font-family="'Liberation Serif', serif" font-size="6.0" font-weight="bold" text-anchor="start" fill="#222" ><tspan font-style='italic'>r</tspan> = 0.092</text>
<text x="69.9" y="177.8" font-family="'Liberation Serif', serif" font-size="6.0" font-weight="bold" text-anchor="start" fill="#222" ><tspan font-style='italic'>r</tspan> = 0.501*</text>
<text x="1.6" y="161.6" font-family="'Liberation Serif', serif" font-size="14" font-weight="bold" text-anchor="start" fill="#000" >D</text>
<line x1="237.2" y1="161.8" x2="237.2" y2="258.9" stroke="#1a1a1a" stroke-width="1.45" />
<line x1="237.2" y1="258.2" x2="239.8" y2="258.2" stroke="#1a1a1a" stroke-width="1.25" />
<text x="234.9" y="260.98" font-family="'Liberation Sans', sans-serif" font-size="6.9" font-weight="bold" text-anchor="end" fill="#222" >0</text>
<line x1="237.2" y1="238.06" x2="239.8" y2="238.06" stroke="#1a1a1a" stroke-width="1.25" />
<text x="234.9" y="240.84" font-family="'Liberation Sans', sans-serif" font-size="6.9" font-weight="bold" text-anchor="end" fill="#222" >2</text>
<line x1="237.2" y1="217.92" x2="239.8" y2="217.92" stroke="#1a1a1a" stroke-width="1.25" />
<text x="234.9" y="220.7" font-family="'Liberation Sans', sans-serif" font-size="6.9" font-weight="bold" text-anchor="end" fill="#222" >4</text>
<line x1="237.2" y1="197.78" x2="239.8" y2="197.78" stroke="#1a1a1a" stroke-width="1.25" />
<text x="234.9" y="200.56" font-family="'Liberation Sans', sans-serif" font-size="6.9" font-weight="bold" text-anchor="end" fill="#222" >6</text>
<line x1="237.2" y1="177.64" x2="239.8" y2="177.64" stroke="#1a1a1a" stroke-width="1.25" />
<text x="234.9" y="180.42" font-family="'Liberation Sans', sans-serif" font-size="6.9" font-weight="bold" text-anchor="end" fill="#222" >8</text>
<line x1="236.5" y1="258.2" x2="419.2" y2="258.2" stroke="#1a1a1a" stroke-width="1.5" />
<line x1="244.6" y1="258.2" x2="244.6" y2="256.2" stroke="#1a1a1a" stroke-width="1.1" />
<text x="244.6" y="267.4" font-family="'Liberation Sans', sans-serif" font-size="6.9" font-weight="bold" text-anchor="middle" fill="#222" >4</text>
<line x1="273.55" y1="258.2" x2="273.55" y2="256.2" stroke="#1a1a1a" stroke-width="1.1" />
<text x="273.55" y="267.4" font-family="'Liberation Sans', sans-serif" font-size="6.9" font-weight="bold" text-anchor="middle" fill="#222" >5</text>
<line x1="302.5" y1="258.2" x2="302.5" y2="256.2" stroke="#1a1a1a" stroke-width="1.1" />
<text x="302.5" y="267.4" font-family="'Liberation Sans', sans-serif" font-size="6.9" font-weight="bold" text-anchor="middle" fill="#222" >6</text>
<line x1="331.45" y1="258.2" x2="331.45" y2="256.2" stroke="#1a1a1a" stroke-width="1.1" />
<text x="331.45" y="267.4" font-family="'Liberation Sans', sans-serif" font-size="6.9" font-weight="bold" text-anchor="middle" fill="#222" >7</text>
<line x1="360.4" y1="258.2" x2="360.4" y2="256.2" stroke="#1a1a1a" stroke-width="1.1" />
<text x="360.4" y="267.4" font-family="'Liberation Sans', sans-serif" font-size="6.9" font-weight="bold" text-anchor="middle" fill="#222" >8</text>
<line x1="389.35" y1="258.2" x2="389.35" y2="256.2" stroke="#1a1a1a" stroke-width="1.1" />
<text x="389.35" y="267.4" font-family="'Liberation Sans', sans-serif" font-size="6.9" font-weight="bold" text-anchor="middle" fill="#222" >9</text>
<line x1="418.3" y1="258.2" x2="418.3" y2="256.2" stroke="#1a1a1a" stroke-width="1.1" />
<text x="418.3" y="267.4" font-family="'Liberation Sans', sans-serif" font-size="6.9" font-weight="bold" text-anchor="middle" fill="#222" >10</text>
<text x="327.8" y="279.3" font-family="'Liberation Serif', serif" font-size="8.6" font-weight="bold" text-anchor="middle" fill="#000" >Imagery vividness&#160; score</text>
<text x="327.8" y="289" font-family="'Liberation Serif', serif" font-size="8.6" font-weight="bold" text-anchor="middle" fill="#000" >1-month follow-up</text>
<text transform="translate(223.4,211) rotate(-90)" font-family="'Liberation Serif', serif" font-size="8.6" font-weight="bold" text-anchor="middle" fill="#000" dy="3">Smoking craving score</text>
<circle cx="237.3" cy="207.6" r="2.9" fill="#ef5f6c"/>
<circle cx="244.2" cy="228.3" r="2.9" fill="#ef5f6c"/>
<circle cx="273.5" cy="202.6" r="2.9" fill="#ef5f6c"/>
<circle cx="273.5" cy="210.4" r="2.9" fill="#ef5f6c"/>
<circle cx="287.8" cy="232.8" r="2.9" fill="#ef5f6c"/>
<circle cx="273.5" cy="248.2" r="2.9" fill="#ef5f6c"/>
<circle cx="302.2" cy="245.5" r="2.9" fill="#ef5f6c"/>
<circle cx="324" cy="245.5" r="2.9" fill="#ef5f6c"/>
<circle cx="316.4" cy="255.8" r="2.9" fill="#ef5f6c"/>
<circle cx="324" cy="225.3" r="2.9" fill="#ef5f6c"/>
<circle cx="331.3" cy="220.2" r="2.9" fill="#ef5f6c"/>
<circle cx="331.4" cy="194.4" r="2.9" fill="#ef5f6c"/>
<circle cx="389.2" cy="194.4" r="2.9" fill="#ef5f6c"/>
<circle cx="345.6" cy="205.3" r="2.9" fill="#ef5f6c"/>
<circle cx="338.7" cy="227.1" r="2.9" fill="#ef5f6c"/>
<circle cx="338.7" cy="230.6" r="2.9" fill="#ef5f6c"/>
<circle cx="338.7" cy="235.6" r="2.9" fill="#ef5f6c"/>
<circle cx="359.8" cy="225.3" r="2.9" fill="#ef5f6c"/>
<circle cx="367.2" cy="228.3" r="2.9" fill="#ef5f6c"/>
<circle cx="389.2" cy="237.9" r="2.9" fill="#ef5f6c"/>
<circle cx="352.9" cy="248.2" r="2.9" fill="#ef5f6c"/>
<circle cx="374.7" cy="253.5" r="2.9" fill="#ef5f6c"/>
<line x1="237.2" y1="223.2" x2="418.3" y2="231.7" stroke="#ef5f6c" stroke-width="1.6" />
<polygon points="320.7,184.12 327.3,184.12 324,178.52" fill="#139566"/>
<polygon points="328.1,194.32 334.7,194.32 331.4,188.72" fill="#139566"/>
<polygon points="342.6,189.42 349.2,189.42 345.9,183.82" fill="#139566"/>
<polygon points="349.6,181.72 356.2,181.72 352.9,176.12" fill="#139566"/>
<polygon points="349.6,186.42 356.2,186.42 352.9,180.82" fill="#139566"/>
<polygon points="349.6,190.82 356.2,190.82 352.9,185.22" fill="#139566"/>
<polygon points="357.1,189.42 363.7,189.42 360.4,183.82" fill="#139566"/>
<polygon points="364.1,181.72 370.7,181.72 367.4,176.12" fill="#139566"/>
<polygon points="364.1,189.42 370.7,189.42 367.4,183.82" fill="#139566"/>
<polygon points="364.1,191.72 370.7,191.72 367.4,186.12" fill="#139566"/>
<polygon points="371.5,176.42 378.1,176.42 374.8,170.82" fill="#139566"/>
<polygon points="378.5,174.12 385.1,174.12 381.8,168.52" fill="#139566"/>
<polygon points="378.5,189.42 385.1,189.42 381.8,183.82" fill="#139566"/>
<polygon points="393,174.12 399.6,174.12 396.3,168.52" fill="#139566"/>
<polygon points="414.9,184.12 421.5,184.12 418.2,178.52" fill="#139566"/>
<polygon points="385.9,196.92 392.5,196.92 389.2,191.32" fill="#139566"/>
<polygon points="335.6,204.82 342.2,204.82 338.9,199.22" fill="#139566"/>
<polygon points="371.5,204.82 378.1,204.82 374.8,199.22" fill="#139566"/>
<polygon points="335.4,214.72 342,214.72 338.7,209.12" fill="#139566"/>
<polygon points="328,224.62 334.6,224.62 331.3,219.02" fill="#139566"/>
<line x1="237.2" y1="222.5" x2="417.7" y2="173.9" stroke="#139566" stroke-width="1.8" />
<circle cx="246.5" cy="166.6" r="2.9" fill="#ef5f6c"/>
<polygon points="243.2,176.72 249.8,176.72 246.5,171.12" fill="#139566"/>
<text x="253.2" y="168.8" font-family="'Liberation Serif', serif" font-size="6.4" font-weight="bold" text-anchor="start" fill="#222" >SI-RE</text>
<text x="253.2" y="176.4" font-family="'Liberation Serif', serif" font-size="6.4" font-weight="bold" text-anchor="start" fill="#222" >NI-RE</text>
<text x="277.8" y="168.8" font-family="'Liberation Serif', serif" font-size="6.4" font-weight="bold" text-anchor="start" fill="#222" ><tspan font-style='italic'>r</tspan> = -0.106</text>
<text x="277.8" y="176.4" font-family="'Liberation Serif', serif" font-size="6.4" font-weight="bold" text-anchor="start" fill="#222" ><tspan font-style='italic'>r</tspan> = 0.487*</text>
<text x="211.9" y="161.8" font-family="'Liberation Serif', serif" font-size="14" font-weight="bold" text-anchor="start" fill="#000" >E</text>
<text x="425" y="161" font-family="'Liberation Serif', serif" font-size="14.8" font-weight="bold" text-anchor="start" fill="#000" >F</text>
<rect x="509.1" y="164.6" width="91.2" height="24.2" fill="#fff" stroke="#222" stroke-width="1.3"/>
<rect x="429.4" y="244.5" width="91" height="24.8" fill="#fff" stroke="#222" stroke-width="1.3"/>
<rect x="593.2" y="244.9" width="87.6" height="24.3" fill="#fff" stroke="#222" stroke-width="1.3"/>
<text x="554.45" y="175.2" font-family="'Liberation Serif', serif" font-size="8.35" font-weight="normal" text-anchor="middle" fill="#111" >smoking craving</text>
<text x="554.45" y="184" font-family="'Liberation Serif', serif" font-size="8.35" font-weight="normal" text-anchor="middle" fill="#111" >(pre vs 1-month)</text>
<text x="475" y="255" font-family="'Liberation Serif', serif" font-size="8.35" font-weight="normal" text-anchor="middle" fill="#111" >group</text>
<text x="475" y="264.8" font-family="'Liberation Serif', serif" font-size="8.35" font-weight="normal" text-anchor="middle" fill="#111" >(SI-RE, NI-RE)</text>
<text x="637.8" y="254.9" font-family="'Liberation Serif', serif" font-size="8.35" font-weight="normal" text-anchor="middle" fill="#111" >daily cigarette number</text>
<text x="637.8" y="264.6" font-family="'Liberation Serif', serif" font-size="8.35" font-weight="normal" text-anchor="middle" fill="#111" >(pre vs 1-month)</text>
<defs><marker id="ah" viewBox="0 0 10 10" refX="9" refY="5" markerWidth="4.8" markerHeight="4.6" preserveAspectRatio="none" orient="auto-start-reverse" markerUnits="userSpaceOnUse"><path d="M0,0 L10,5 L0,10 z" fill="#111"/></marker></defs>
<line x1="476.4" y1="243" x2="511.4" y2="191" stroke="#111" stroke-width="1.1" marker-end="url(#ah)"/>
<line x1="600.7" y1="190" x2="638.5" y2="242.8" stroke="#111" stroke-width="1.1" marker-end="url(#ah)"/>
<line x1="520.4" y1="257" x2="591.4" y2="257" stroke="#111" stroke-width="1.1" marker-end="url(#ah)"/>
<path d="M480.4,243.5 C493.6,200.6 618.3,200.1 631.9,242.6" fill="none" stroke="#111" stroke-width="1.1" marker-end="url(#ah)"/>
<text x="442.6" y="219" font-family="'Liberation Serif', serif" font-size="7.0" font-weight="normal" text-anchor="start" fill="#111" >a = -3.8351***</text>
<text x="627.9" y="218.5" font-family="'Liberation Serif', serif" font-size="7.0" font-weight="normal" text-anchor="start" fill="#111" >b = 0.8214**</text>
<text x="542.3" y="254.6" font-family="'Liberation Serif', serif" font-size="7.0" font-weight="normal" text-anchor="start" fill="#111" >c = -6.6196***</text>
<text x="542.3" y="268.2" font-family="'Liberation Serif', serif" font-size="7.0" font-weight="normal" text-anchor="start" fill="#111" >c’ = -3.4696</text>
</svg>
</body></html>
